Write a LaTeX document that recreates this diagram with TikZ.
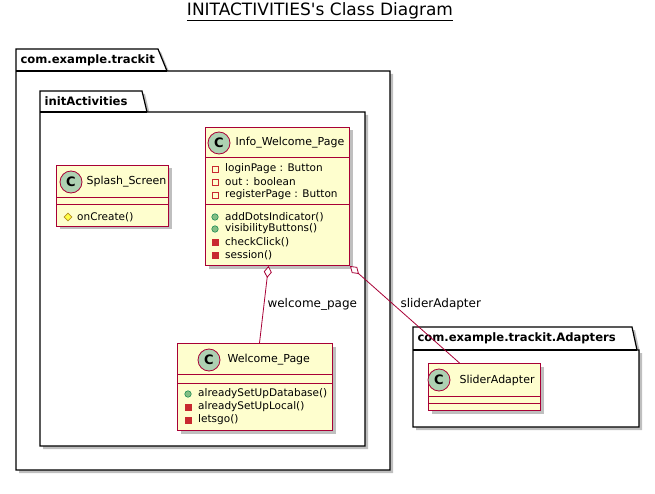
\documentclass[tikz,border=0pt]{standalone}
\usepackage{fontspec}
\setmainfont{DejaVu Sans}
\usetikzlibrary{arrows.meta,positioning,calc,shapes.geometric,shadows}
\definecolor{umlred}{HTML}{A80036}
\definecolor{umlfill}{HTML}{FEFECE}
\definecolor{cgreen}{HTML}{ADD1B2}
\definecolor{pubfill}{HTML}{84BE84}
\definecolor{publine}{HTML}{038048}
\definecolor{privred}{HTML}{C82930}
\definecolor{protfill}{HTML}{FFFF44}
\definecolor{protline}{HTML}{B38D22}
\tikzset{shad/.style={drop shadow={shadow xshift=3pt,shadow yshift=-3pt,fill=black,opacity=0.25}},
  pkg/.style={draw=black,line width=1.2pt,fill=white,shad},
  pkglab/.style={anchor=west,font=\fontsize{11.6}{13}\selectfont\bfseries},
  cls/.style={draw=umlred,fill=umlfill,line width=1pt,anchor=north west,inner sep=0pt,shad},
  divline/.style={draw=umlred,line width=1pt},
  cicon/.style={circle,draw=umlred,fill=cgreen,line width=0.8pt,minimum size=22pt,inner sep=0pt,font=\bfseries\fontsize{13}{13}\selectfont},
  cname/.style={anchor=west,font=\fontsize{11}{13}\selectfont},
  mem/.style={anchor=west,font=\fontsize{10.5}{12}\selectfont,inner sep=0pt},
  privattr/.style={rectangle,draw=privred,fill=none,minimum size=6pt,inner sep=0pt,line width=0.7pt},
  privmeth/.style={rectangle,draw=privred,fill=privred,minimum size=6pt,inner sep=0pt},
  pubmeth/.style={circle,draw=publine,fill=pubfill,minimum size=6.5pt,inner sep=0pt,line width=0.5pt},
  protmeth/.style={diamond,draw=protline,fill=protfill,minimum size=8pt,inner sep=0pt,line width=0.6pt},
  agg/.style={draw=umlred,line width=0.8pt,{Diamond[length=12pt,width=8pt,fill=white]}-},
  edgelab/.style={anchor=west,font=\fontsize{12}{14}\selectfont}}

\begin{document}
\begin{tikzpicture}[x=1pt,y=-1pt]
\useasboundingbox (0,0) rectangle (655,494);
\node[font=\fontsize{17}{19}\selectfont] (title) at (320,12) {\underline{INITACTIVITIES\textquotesingle s Class Diagram}};

% packages
\draw[pkg] (16,49) -- (158,49) -- (167,71) -- (390,71) -- (390,470) -- (16,470) -- cycle;
\draw[line width=1.2pt] (16,71) -- (167,71);
\node[pkglab] (pkgtrackit) at (17,60) {com.example.trackit};
\draw[pkg] (40,91) -- (142,91) -- (147,112) -- (365,112) -- (365,446) -- (40,446) -- cycle;
\draw[line width=1.2pt] (40,112) -- (147,112);
\node[pkglab] (pkginit) at (41,101) {initActivities};
\draw[pkg] (413,327) -- (632,327) -- (637,350) -- (639,350) -- (639,427) -- (413,427) -- cycle;
\draw[line width=1.2pt] (413,350) -- (637,350);
\node[pkglab] (pkgadapt) at (414,338) {com.example.trackit.Adapters};

% Info_Welcome_Page
\node[cls,minimum width=144pt,minimum height=138pt] (info) at (205,127) {};
\draw[divline] ($(info.north west)+(0,31)$) -- ($(info.north east)+(0,31)$);
\draw[divline] ($(info.north west)+(0,78)$) -- ($(info.north east)+(0,78)$);
\node[cicon] (infoC) at (219,143) {C};
\node[cname] (infoN) at (232,143) {Info\_Welcome\_Page};
\foreach \yy/\ic/\txt [count=\i] in {169/privattr/loginPage : Button,182/privattr/out : boolean,195/privattr/registerPage : Button,217/pubmeth/addDotsIndicator(),229/pubmeth/visibilityButtons(),242/privmeth/checkClick(),255/privmeth/session()}{
  \node[\ic] (infoI\i) at (215,\yy) {};
  \node[mem] (infoM\i) at (225,\yy) {\txt};
}

% Splash_Screen
\node[cls,minimum width=112pt,minimum height=61pt] (splash) at (56,165) {};
\draw[divline] ($(splash.north west)+(0,33)$) -- ($(splash.north east)+(0,33)$);
\draw[divline] ($(splash.north west)+(0,40)$) -- ($(splash.north east)+(0,40)$);
\node[cicon] (splashC) at (71,182) {C};
\node[cname] (splashN) at (83,182) {Splash\_Screen};
\node[protmeth] (splashI1) at (68,217) {};
\node[mem] (splashM1) at (77,217) {onCreate()};

% Welcome_Page
\node[cls,minimum width=155pt,minimum height=87pt] (welcome) at (177,343) {};
\draw[divline] ($(welcome.north west)+(0,31)$) -- ($(welcome.north east)+(0,31)$);
\draw[divline] ($(welcome.north west)+(0,40)$) -- ($(welcome.north east)+(0,40)$);
\node[cicon] (welcomeC) at (209,360) {C};
\node[cname] (welcomeN) at (224,360) {Welcome\_Page};
\foreach \yy/\ic/\txt [count=\i] in {394/pubmeth/alreadySetUpDatabase(),407/privmeth/alreadySetUpLocal(),420/privmeth/letsgo()}{
  \node[\ic] (welcomeI\i) at (188,\yy) {};
  \node[mem] (welcomeM\i) at (198,\yy) {\txt};
}

% SliderAdapter
\node[cls,minimum width=112pt,minimum height=47pt] (slider) at (428,363) {};
\draw[divline] ($(slider.north west)+(0,33)$) -- ($(slider.north east)+(0,33)$);
\draw[divline] ($(slider.north west)+(0,40)$) -- ($(slider.north east)+(0,40)$);
\node[cicon] (sliderC) at (439,380) {C};
\node[cname] (sliderN) at (456,380) {SliderAdapter};

% connectors
\draw[agg] ([xshift=-9pt]info.south) -- ([xshift=4.5pt]welcome.north);
\draw[agg] (info.south east) -- ([xshift=-25pt]slider.north);
\node[edgelab] (labwelcome) at (264,304) {welcome\_page};
\node[edgelab] (labslider) at (397,304) {sliderAdapter};
\end{tikzpicture}
\end{document}
